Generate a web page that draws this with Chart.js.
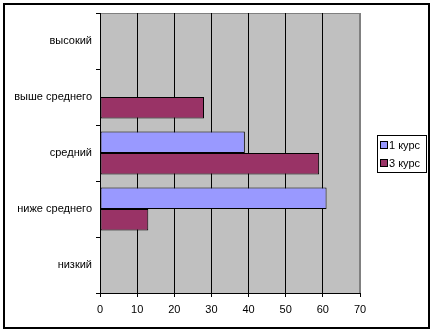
<!DOCTYPE html>
<html>
<head>
<meta charset="utf-8">
<script src="https://cdn.jsdelivr.net/npm/chart.js@4/dist/chart.umd.min.js"></script>
<style>
  html, body { margin: 0; padding: 0; background: #fff; }
  canvas { display: block; }
</style>
</head>
<body>
<canvas id="chart" width="434" height="333"></canvas>
<script>
// categories, top to bottom
const levels = ['высокий', 'выше среднего', 'средний', 'ниже среднего', 'низкий'];
const seriesNames = ['1 курс', '3 курс'];
const course1 = [null, null, 39, 61, null];
const course3 = [null, 28, 59, 13, null];
const xTicks = [0, 10, 20, 30, 40, 50, 60, 70];

const FONT = 'Liberation Sans, Arial, sans-serif';

// gray plot background, gray frame, outer border and the boxed legend
const excelLook = {
    id: 'excelLook',
    beforeDraw(chart) {
        const ctx = chart.ctx;
        const a = chart.chartArea;
        ctx.save();
        ctx.fillStyle = '#fff';
        ctx.fillRect(0, 0, chart.width, chart.height);
        ctx.fillStyle = '#c0c0c0';
        ctx.fillRect(a.left, a.top, a.right - a.left, a.bottom - a.top);
        ctx.strokeStyle = '#808080';
        ctx.lineWidth = 1;
        ctx.strokeRect(a.left + 0.5, a.top + 0.5, a.right - a.left - 1, a.bottom - a.top);
        ctx.restore();
    },
    afterDraw(chart) {
        const ctx = chart.ctx;
        ctx.save();
        ctx.strokeStyle = '#000';
        ctx.lineWidth = 2;
        ctx.strokeRect(4, 4, 425, 324);

        // legend
        const lx = 377, ly = 135, lw = 49, lh = 37;
        ctx.fillStyle = '#fff';
        ctx.fillRect(lx, ly, lw, lh);
        ctx.lineWidth = 1;
        ctx.strokeRect(lx + 0.5, ly + 0.5, lw, lh);
        ctx.font = '11px ' + FONT;
        ctx.textBaseline = 'middle';
        chart.data.datasets.forEach((ds, i) => {
            const cy = ly + 10 + i * 18;
            ctx.fillStyle = ds.backgroundColor;
            ctx.fillRect(381, cy - 3, 6, 6);
            ctx.strokeStyle = '#000';
            ctx.strokeRect(380.5, cy - 3.5, 7, 7);
            ctx.fillStyle = '#000';
            ctx.fillText(ds.label, 389, cy + 1);
        });
        ctx.restore();
    }
};

new Chart(document.getElementById('chart'), {
    type: 'bar',
    data: {
        labels: levels,
        datasets: [
            {label: seriesNames[0], data: course1, backgroundColor: '#9999ff'},
            {label: seriesNames[1], data: course3, backgroundColor: '#993366'}
        ]
    },
    options: {
        indexAxis: 'y',
        responsive: false,
        animation: false,
        devicePixelRatio: 1,
        layout: {padding: {top: 13, left: 4, right: 74, bottom: 0}},
        datasets: {
            bar: {
                categoryPercentage: 0.77,
                barPercentage: 1,
                borderColor: '#000',
                borderWidth: 1,
                borderSkipped: false
            }
        },
        plugins: {
            legend: {display: false},
            tooltip: {enabled: false}
        },
        scales: {
            x: {
                min: 0,
                max: 70,
                afterBuildTicks(scale) {
                    scale.ticks = xTicks.map(v => ({value: v}));
                },
                afterFit(scale) { scale.height = 40; },
                border: {color: '#000', width: 1},
                grid: {
                    color: ctx => ctx.tick && ctx.tick.value === 70 ? '#808080' : '#000',
                    tickColor: '#000',
                    tickLength: 4,
                    drawOnChartArea: true
                },
                ticks: {
                    color: '#000',
                    font: {family: FONT, size: 11},
                    padding: 6,
                    maxRotation: 0
                }
            },
            y: {
                offset: true,
                afterFit(scale) { scale.width = 96; },
                border: {color: '#000', width: 1},
                grid: {
                    offset: true,
                    drawOnChartArea: false,
                    color: '#000',
                    tickLength: 4
                },
                ticks: {
                    color: '#000',
                    font: {family: FONT, size: 11},
                    padding: 4
                }
            }
        }
    },
    plugins: [excelLook]
});
</script>
</body>
</html>
